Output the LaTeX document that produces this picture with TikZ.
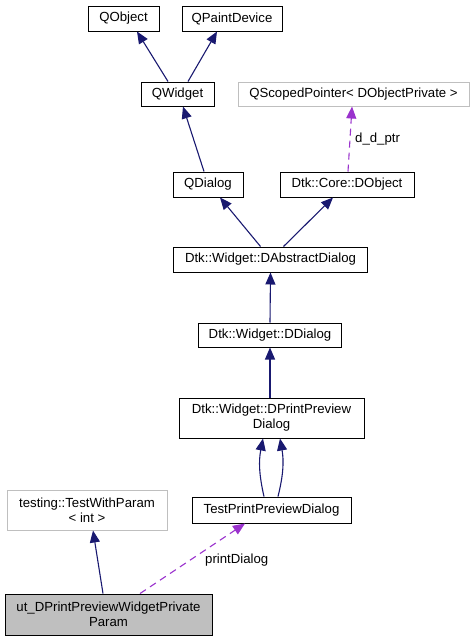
\documentclass[tikz,border=0pt]{standalone}
\usepackage{fontspec}
\setmainfont{Liberation Sans}
\usetikzlibrary{arrows.meta}
\definecolor{navy}{HTML}{191970}
\definecolor{orchid}{HTML}{9A32CD}
\definecolor{lgray}{HTML}{BFBFBF}
\begin{document}
\begin{tikzpicture}[x=1pt,y=-1pt,
 box/.style={draw=black,line width=1pt,inner sep=0pt,align=center,font=\fontsize{13.2}{15}\selectfont},
 gbox/.style={box,draw=lgray},
 inh/.style={navy,line width=1.1pt,-{Triangle[length=12pt,width=10pt]}},
 use/.style={orchid,line width=1.1pt,dash pattern=on 7pt off 5pt,-{Triangle[length=12pt,width=10pt]}},
 lbl/.style={font=\fontsize{13.2}{15}\selectfont,inner sep=0pt,anchor=west}]
\useasboundingbox (0,0) rectangle (475,640);

\node[box,minimum width=71pt,minimum height=25pt] (qobject) at (123.5,18.5) {QObject};
\node[box,minimum width=100pt,minimum height=25pt] (qpaint) at (232,18.5) {QPaintDevice};
\node[box,minimum width=73pt,minimum height=24pt] (qwidget) at (177.5,94) {QWidget};
\node[gbox,minimum width=231pt,minimum height=24pt] (qscoped) at (353.5,94) {QScopedPointer< DObjectPrivate >};
\node[box,minimum width=70pt,minimum height=25pt] (qdialog) at (208,184.5) {QDialog};
\node[box,minimum width=134pt,minimum height=25pt] (dobject) at (347,184.5) {Dtk::Core::DObject};
\node[box,minimum width=194pt,minimum height=25pt] (dabs) at (270.5,259.5) {Dtk::Widget::DAbstractDialog};
\node[box,minimum width=143pt,minimum height=24pt] (ddialog) at (270,335) {Dtk::Widget::DDialog};
\node[box,minimum width=185pt,minimum height=40pt] (dppd) at (271.5,418) {Dtk::Widget::DPrintPreview\\Dialog};
\node[gbox,minimum width=160pt,minimum height=40pt] (twp) at (87,510) {testing::TestWithParam\\< int >};
\node[box,minimum width=159pt,minimum height=26pt] (tppd) at (271.5,510) {TestPrintPreviewDialog};
\node[box,fill=lgray,minimum width=207pt,minimum height=41pt] (ut) at (108.5,614.5) {ut\_DPrintPreviewWidgetPrivate\\Param};

\draw[inh] ([xshift=-9.5pt]qwidget.north) -- ([xshift=13.5pt]qobject.south);
\draw[inh] ([xshift=10.5pt]qwidget.north) -- ([xshift=-15pt]qpaint.south);
\draw[inh] ([xshift=-4pt]qdialog.north) -- ([xshift=5.5pt]qwidget.south);
\draw[inh] ([xshift=-10pt]dabs.north) -- ([xshift=12pt]qdialog.south);
\draw[inh] ([xshift=13pt]dabs.north) -- ([xshift=-14pt]dobject.south);
\draw[inh] (ddialog.north) -- (dabs.south);
\draw[inh] ([xshift=-1.5pt]dppd.north) -- (ddialog.south);
\draw[inh] ([xshift=-7.5pt]tppd.north) to[bend left=12] ([xshift=-8.5pt]dppd.south);
\draw[inh] ([xshift=6.5pt]tppd.north) to[bend right=12] ([xshift=8.5pt]dppd.south);
\draw[inh] ([xshift=-5.5pt]ut.north) -- ([xshift=6pt]twp.south);

\draw[use] ([xshift=31.5pt]ut.north) -- ([xshift=-26.5pt]tppd.south);
\node[lbl] (lblprint) at (205,560) {printDialog};
\draw[use] ([xshift=1pt]dobject.north) -- ([xshift=-1.5pt]qscoped.south);
\node[lbl] (lbldptr) at (355,139) {d\_d\_ptr};
\end{tikzpicture}
\end{document}
